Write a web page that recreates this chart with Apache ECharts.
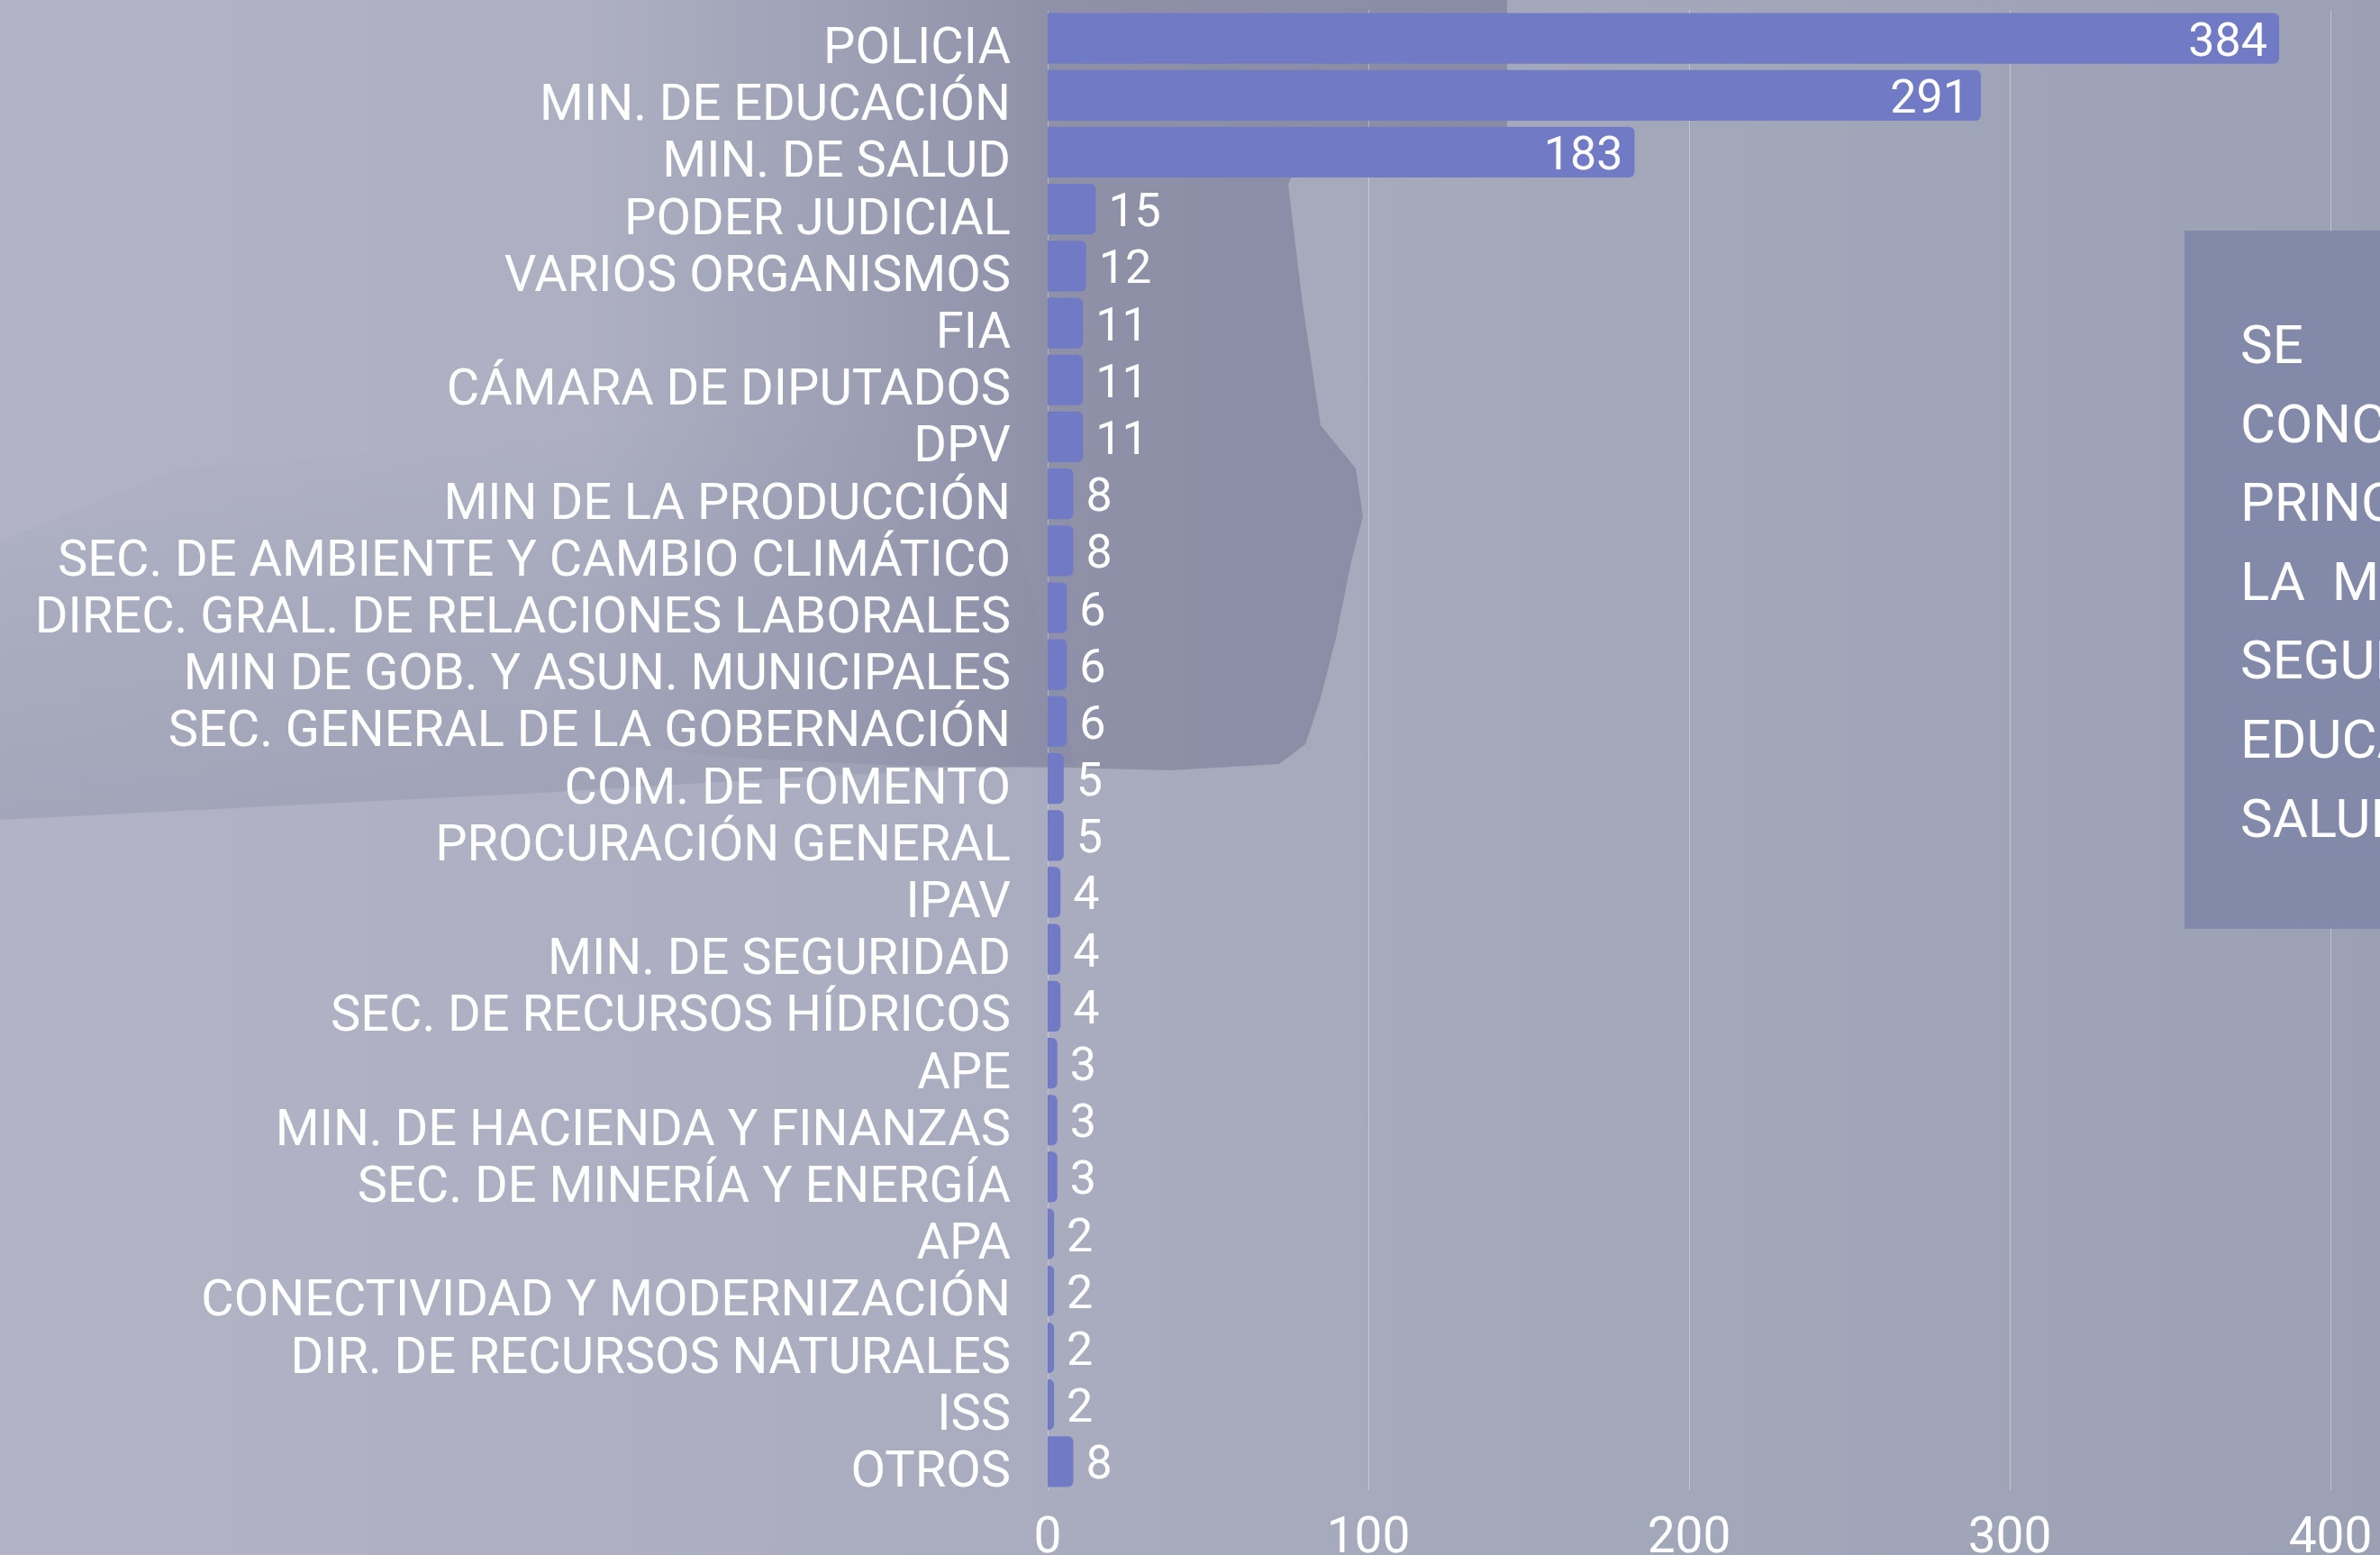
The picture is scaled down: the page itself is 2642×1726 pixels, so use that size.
<!DOCTYPE html>
<html>
<head>
<meta charset="utf-8">
<title>Organismos</title>
<script src="https://cdn.jsdelivr.net/npm/echarts@6/dist/echarts.min.js"></script>
<style>
  html, body { margin: 0; padding: 0; overflow: hidden; }
  #charts { width: 2642px; height: 1726px; }
</style>
</head>
<body>
<div id="charts"></div>
<script>
var categories = [
    'POLICIA', 'MIN. DE EDUCACIÓN', 'MIN. DE SALUD', 'PODER JUDICIAL', 'VARIOS ORGANISMOS',
    'FIA', 'CÁMARA DE DIPUTADOS', 'DPV', 'MIN DE LA PRODUCCIÓN',
    'SEC. DE AMBIENTE Y CAMBIO CLIMÁTICO', 'DIREC. GRAL. DE RELACIONES LABORALES',
    'MIN DE GOB. Y ASUN. MUNICIPALES', 'SEC. GENERAL DE LA GOBERNACIÓN', 'COM. DE FOMENTO',
    'PROCURACIÓN GENERAL', 'IPAV', 'MIN. DE SEGURIDAD', 'SEC. DE RECURSOS HÍDRICOS', 'APE',
    'MIN. DE HACIENDA Y FINANZAS', 'SEC. DE MINERÍA Y ENERGÍA', 'APA',
    'CONECTIVIDAD Y MODERNIZACIÓN', 'DIR. DE RECURSOS NATURALES', 'ISS', 'OTROS'
];
var values = [384, 291, 183, 15, 12, 11, 11, 11, 8, 8, 6, 6, 6, 5, 5, 4, 4, 4, 3, 3, 3, 2, 2, 2, 2, 8];
var xTicks = [0, 100, 200, 300, 400];
var noteLines = ['SE', 'CONCENTRAN', 'PRINCIPALMENTE', 'LA  MAYORÍA', 'SEGURIDAD,', 'EDUCACIÓN Y', 'SALUD'];

var chartDiv = document.getElementById('charts');
var charts = echarts.init(chartDiv);

var font = 'Roboto, "Noto Sans", sans-serif';

// barras grandes llevan la etiqueta adentro
var barData = [];
for (var i = 0; i < values.length; i++) {
    var big = values[i] > 100;
    barData.push({
        value: values[i],
        label: { position: big ? 'insideRight' : 'right', distance: big ? 13 : 14 }
    });
}

// fondo decorativo (silueta oscura y pincelada)
var decor = [
    {
        type: 'polygon', z: -5, silent: true,
        shape: { points: [[0, 600], [200, 520], [500, 497], [800, 470], [1100, 480], [1193, 848], [900, 862], [600, 880], [300, 895], [0, 910]] },
        style: {
            fill: new echarts.graphic.LinearGradient(0, 0, 0, 1, [
                { offset: 0, color: 'rgba(128,131,156,0)' },
                { offset: 0.45, color: 'rgba(128,131,156,0.16)' },
                { offset: 1, color: 'rgba(128,131,156,0.3)' }
            ])
        }
    },
    {
        type: 'polygon', z: -4, silent: true,
        shape: { points: [[650, 0], [1673, 0], [1673, 142], [1452, 150], [1430, 205], [1446, 337], [1466, 472], [1505, 520], [1513, 573], [1500, 623], [1483, 708], [1466, 775], [1449, 826], [1420, 848], [1300, 855], [1180, 852], [1000, 850], [800, 840], [650, 820]] },
        style: {
            fill: new echarts.graphic.LinearGradient(0, 0, 1, 0, [
                { offset: 0, color: 'rgba(130,133,158,0)' },
                { offset: 0.3, color: 'rgba(130,133,158,0.35)' },
                { offset: 0.5, color: 'rgba(130,133,158,0.7)' },
                { offset: 1, color: 'rgba(130,133,158,0.8)' }
            ])
        }
    }
];

var noteText = [];
for (var j = 0; j < noteLines.length; j++) {
    noteText.push({
        type: 'text', z: 101, silent: true,
        left: 2487, top: 381 + j * 87.6 - 23,
        style: { text: noteLines[j], fill: '#ffffff', font: '60px ' + font }
    });
}

var option = {
    backgroundColor: new echarts.graphic.LinearGradient(0, 0, 1, 0, [
        { offset: 0, color: '#b2b4c6' },
        { offset: 0.45, color: '#a9acbe' },
        { offset: 0.7, color: '#a3a7ba' },
        { offset: 1, color: '#9ba0b4' }
    ]),
    textStyle: { fontFamily: font },
    grid: { left: 1163, right: 55, top: 11, bottom: 72, containLabel: false, outerBoundsMode: 'none' },
    xAxis: {
        type: 'value', min: 0, max: 400, interval: 100,
        axisLine: { show: false }, axisTick: { show: false },
        splitLine: { lineStyle: { color: 'rgba(255,255,255,0.35)', width: 1 } },
        axisLabel: {
            color: '#ffffff', fontSize: 55, margin: 28, fontFamily: font,
            customValues: xTicks
        }
    },
    yAxis: {
        type: 'category', data: categories, inverse: true,
        axisLine: { show: false }, axisTick: { show: false },
        axisLabel: {
            interval: 0, color: '#ffffff', fontSize: 56, margin: 41, fontFamily: font,
            verticalAlign: 'top', lineHeight: 27
        }
    },
    series: [{
        type: 'bar',
        data: barData,
        barCategoryGap: '11%',
        itemStyle: { color: '#717ac5', borderRadius: [0, 6, 6, 0] },
        label: { show: true, color: '#ffffff', fontSize: 52, fontFamily: font, offset: [0, 6] }
    }],
    graphic: decor.concat([
        {
            type: 'rect', z: 100, silent: true,
            shape: { x: 2425, y: 256, width: 230, height: 775 },
            style: { fill: '#8389a9' }
        }
    ]).concat(noteText)
};
charts.setOption(option);
</script>
</body>
</html>
